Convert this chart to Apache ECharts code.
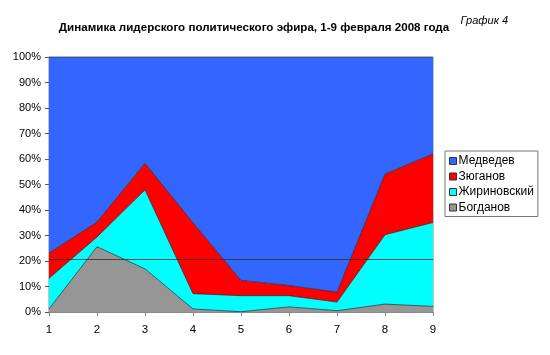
<!DOCTYPE html>
<html><head><meta charset="utf-8">
<script src="https://cdn.jsdelivr.net/npm/echarts@6/dist/echarts.min.js"></script>
<style>html,body{margin:0;padding:0;background:#fff}#c{width:550px;height:355px}</style>
</head><body><div id="c"></div>
<script>
const categories = ['1','2','3','4','5','6','7','8','9'];
const bogdanov = [1.2, 25.6, 16.9, 1.2, 0.1, 2.0, 0.5, 3.1, 2.2];
const zhirinovsky = [12.0, 3.8, 31.0, 6.0, 6.3, 4.4, 3.4, 27.2, 32.9];
const zyuganov = [9.9, 5.9, 10.4, 27.8, 6.0, 4.0, 3.9, 23.8, 26.9];
const medvedev = [76.9, 64.7, 41.7, 65.0, 87.6, 89.6, 92.2, 45.9, 38.0];
const refLine = 20.6;
const seriesNames = ['Медведев','Зюганов','Жириновский','Богданов'];
const colors = {'Медведев':'#3366FF','Зюганов':'#FF0000','Жириновский':'#00FFFF','Богданов':'#969696'};

function areaSeries(name, data, extra) {
  return Object.assign({
    name: name, type: 'line', stack: 'total', data: data,
    symbol: 'none', smooth: false,
    lineStyle: {color: '#222', width: 0.7},
    areaStyle: {color: colors[name], opacity: 1},
    itemStyle: {color: colors[name], borderColor: '#333', borderWidth: 1},
    emphasis: {disabled: true}
  }, extra || {});
}

const chart = echarts.init(document.getElementById('c'), null, {renderer: 'canvas'});
chart.setOption({
  animation: false,
  backgroundColor: '#fff',
  title: [
    {text: 'Динамика лидерского политического эфира, 1-9 февраля 2008 года', left: 249, top: 17, textAlign: 'center',
     textStyle: {fontFamily: 'Liberation Sans, Arial', fontSize: 11.6, fontWeight: 'bold', color: '#000'}},
    {text: 'График 4', right: 37, top: 10,
     textStyle: {fontFamily: 'Liberation Sans, Arial', fontSize: 11, fontStyle: 'italic', fontWeight: 'normal', color: '#000'}}
  ],
  legend: {
    data: seriesNames, orient: 'vertical', left: 445, top: 151,
    itemWidth: 7, itemHeight: 7, itemGap: 1.5, padding: [3, 4, 2, 4],
    borderColor: '#777', borderWidth: 1, backgroundColor: '#fff',
    icon: 'rect',
    textStyle: {fontFamily: 'Liberation Sans, Arial', fontSize: 12, color: '#000', padding: [0,0,0,-3], lineHeight: 14},
    itemStyle: {borderColor: '#333', borderWidth: 1}
  },
  grid: {left: 49, right: 117, top: 57, bottom: 43, containLabel: false, show: true, borderColor: '#888', borderWidth: 1, backgroundColor: 'transparent'},
  xAxis: {
    type: 'category', data: categories, boundaryGap: false,
    axisLine: {lineStyle: {color: '#888'}},
    axisTick: {show: true, alignWithLabel: true, length: 4, lineStyle: {color: '#888'}},
    axisLabel: {fontFamily: 'Liberation Sans, Arial', fontSize: 11.5, color: '#000', margin: 12},
    splitLine: {show: false}
  },
  yAxis: {
    type: 'value', min: 0, max: 100, interval: 10,
    axisLine: {show: true, lineStyle: {color: '#555'}},
    axisTick: {show: true, length: 4, lineStyle: {color: '#555'}},
    axisLabel: {formatter: '{value}%', fontFamily: 'Liberation Sans, Arial', fontSize: 11, color: '#000', margin: 8},
    splitLine: {show: false}
  },
  series: [
    areaSeries('Богданов', bogdanov, {
      markLine: {silent: true, symbol: 'none', label: {show: false},
        lineStyle: {color: '#333', width: 1, type: 'solid', opacity: 0.85},
        data: [{yAxis: refLine}], z: 10}
    }),
    areaSeries('Жириновский', zhirinovsky),
    areaSeries('Зюганов', zyuganov),
    areaSeries('Медведев', medvedev)
  ]
});
</script></body></html>
